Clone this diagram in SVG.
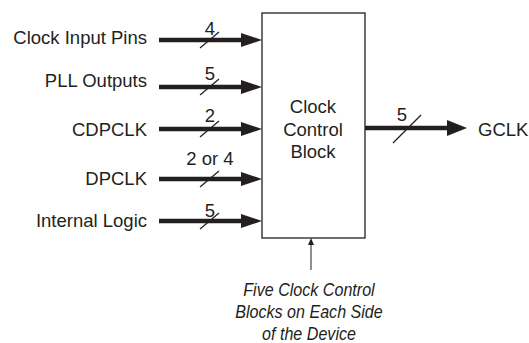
<svg xmlns="http://www.w3.org/2000/svg" width="529" height="343" viewBox="0 0 529 343">
<style>
text{font-family:"Liberation Sans",Arial,sans-serif;font-size:18.5px;fill:#231f20}
.lbl{text-anchor:end}
.num{text-anchor:middle}
.mid{text-anchor:middle}
.it{font-style:italic;text-anchor:middle}
.bus{stroke:#231f20;stroke-width:4.5;fill:none}
.sl{stroke:#231f20;stroke-width:1.2;fill:none}
.head{fill:#231f20}
</style>
<rect width="529" height="343" fill="#fff"/>
<g id="block">
<rect x="262" y="13" width="103" height="225" fill="#fff" stroke="#231f20" stroke-width="1.3"/>
<text class="mid" x="313" y="113">Clock</text>
<text class="mid" x="313" y="136">Control</text>
<text class="mid" x="313" y="158">Block</text>
</g>
<g id="in-clock-input-pins"><text class="lbl" x="147" y="44">Clock Input Pins</text></g>
<g id="in-pll-outputs"><text class="lbl" x="147" y="87">PLL Outputs</text></g>
<g id="in-cdpclk"><text class="lbl" x="147" y="136">CDPCLK</text></g>
<g id="in-dpclk"><text class="lbl" x="147" y="185">DPCLK</text></g>
<g id="in-internal-logic"><text class="lbl" x="147" y="227">Internal Logic</text></g>
<g id="out-gclk"><text x="478" y="136">GCLK</text></g>
<g id="note"><text class="it" transform="translate(309 0) scale(0.87 1)" x="0" y="296">Five Clock Control</text>
<text class="it" transform="translate(309 0) scale(0.87 1)" x="0" y="318">Blocks on Each Side</text>
<text class="it" transform="translate(309 0) scale(0.87 1)" x="0" y="340">of the Device</text></g>
<g id="connectors">
<line class="bus" x1="159" y1="40" x2="244" y2="40"/><path class="head" d="M241 33 L262 40 L241 47 Z"/>
<line class="sl" x1="200" y1="48" x2="219" y2="32"/><text class="num" x="210" y="35">4</text>
<line class="bus" x1="159" y1="87" x2="244" y2="87"/><path class="head" d="M241 80 L262 87 L241 94 Z"/>
<line class="sl" x1="200" y1="95" x2="219" y2="79"/><text class="num" x="210" y="80">5</text>
<line class="bus" x1="159" y1="129" x2="244" y2="129"/><path class="head" d="M241 122 L262 129 L241 136 Z"/>
<line class="sl" x1="200" y1="137" x2="219" y2="121"/><text class="num" x="210" y="122">2</text>
<line class="bus" x1="159" y1="179" x2="244" y2="179"/><path class="head" d="M241 172 L262 179 L241 186 Z"/>
<line class="sl" x1="200" y1="187" x2="219" y2="171"/><text class="num" x="210" y="165">2 or 4</text>
<line class="bus" x1="159" y1="221" x2="244" y2="221"/><path class="head" d="M241 214 L262 221 L241 228 Z"/>
<line class="sl" x1="200" y1="229" x2="219" y2="213"/><text class="num" x="210" y="217">5</text>
<line class="bus" x1="365" y1="128" x2="450" y2="128"/><path class="head" d="M447 120 L467 128 L447 136 Z"/>
<line class="sl" x1="393" y1="143" x2="421" y2="115"/><text class="num" x="402" y="121">5</text>
<line stroke="#231f20" stroke-width="1" x1="311" y1="270" x2="311" y2="244"/><path class="head" d="M308 245 L311 238 L314 245 Z"/>
</g>
</svg>
